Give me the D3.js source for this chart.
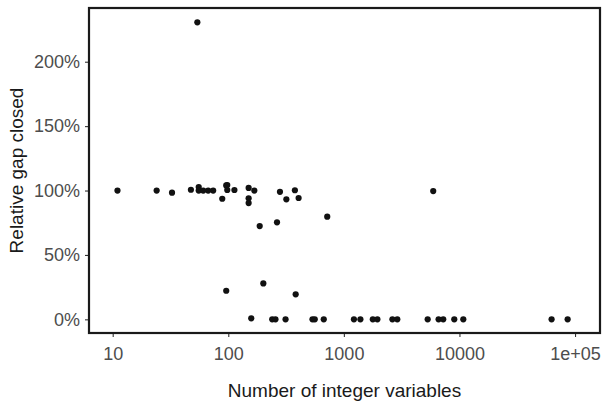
<!DOCTYPE html>
<html>
<head>
<meta charset="utf-8">
<script src="https://cdn.jsdelivr.net/npm/d3@7"></script>
<style>
  body { margin: 0; background: #fff; }
  svg { display: block; font-family: "Liberation Sans", Arial, sans-serif; }
</style>
</head>
<body>
<svg id="chart" width="604" height="402"></svg>
<script>
// integer variable counts and relative gap closed (fraction)
var intVars = [11, 24, 32.6, 47.5, 54, 55.5, 55.5, 60.7, 67, 74, 88.7, 96, 98, 98, 113,
  150, 150, 150, 168, 187, 264, 280, 318, 377, 406, 718, 5930,
  96, 201, 383,
  158, 240, 256, 313, 535, 560, 670, 1222, 1390, 1780, 1950, 2630, 2900,
  5310, 6600, 7240, 9020, 10800, 62700, 86300];
var gapClosed = [1.0, 1.0, 0.983, 1.006, 2.306, 1.027, 1.0, 1.0, 1.0, 1.0, 0.936, 1.04, 1.043, 1.004, 1.004,
  1.02, 0.94, 0.903, 1.0, 0.724, 0.753, 0.99, 0.932, 1.002, 0.942, 0.797, 0.996,
  0.222, 0.279, 0.194,
  0.008, 0, 0, 0, 0, 0, 0, 0, 0, 0, 0, 0, 0,
  0, 0, 0, 0, 0, 0, 0];
var xTicks = [10, 100, 1000, 10000, 100000];
var xTickLabels = ["10", "100", "1000", "10000", "1e+05"];
var yTicks = [0, 0.5, 1, 1.5, 2];

var svg = d3.select("#chart");
var panel = {left: 89, right: 600, top: 8, bottom: 333};

var x = d3.scaleLog()
  .domain([Math.pow(10, 0.795), Math.pow(10, 5.216)])
  .range([panel.left, panel.right]);
var y = d3.scaleLinear()
  .domain([-0.106, 2.417])
  .range([panel.bottom, panel.top]);

// axes
var xAxis = svg.append("g")
  .attr("transform", "translate(0," + panel.bottom + ")")
  .call(d3.axisBottom(x).tickValues(xTicks)
    .tickFormat(function(d, i) { return xTickLabels[i]; })
    .tickSize(4).tickPadding(5));
var yAxis = svg.append("g")
  .attr("transform", "translate(" + panel.left + ",0)")
  .call(d3.axisLeft(y).tickValues(yTicks)
    .tickFormat(function(d) { return Math.round(d * 100) + "%"; })
    .tickSize(4).tickPadding(5));

[xAxis, yAxis].forEach(function(a) {
  a.select(".domain").remove();
  a.selectAll(".tick line").attr("stroke", "#333").attr("stroke-width", 1.1);
  a.selectAll(".tick text").attr("fill", "#4d4d4d").style("font-size", "18px");
});
xAxis.selectAll(".tick text").attr("dy", "1em");

// panel border
svg.append("rect")
  .attr("x", panel.left)
  .attr("y", panel.top)
  .attr("width", panel.right - panel.left)
  .attr("height", panel.bottom - panel.top)
  .attr("fill", "none")
  .attr("stroke", "#1a1a1a")
  .attr("stroke-width", 2.2);

// points
svg.append("g").selectAll("circle")
  .data(intVars)
  .join("circle")
  .attr("cx", function(d) { return x(d); })
  .attr("cy", function(d, i) { return y(gapClosed[i]); })
  .attr("r", 3.1)
  .attr("fill", "#111");

// axis titles
svg.append("text")
  .attr("x", (panel.left + panel.right) / 2)
  .attr("y", 397)
  .attr("text-anchor", "middle")
  .attr("fill", "#1a1a1a")
  .style("font-size", "19px")
  .text("Number of integer variables");
svg.append("text")
  .attr("transform", "translate(22.5," + ((panel.top + panel.bottom) / 2) + ") rotate(-90)")
  .attr("text-anchor", "middle")
  .attr("fill", "#1a1a1a")
  .style("font-size", "19px")
  .text("Relative gap closed");
</script>
</body>
</html>
